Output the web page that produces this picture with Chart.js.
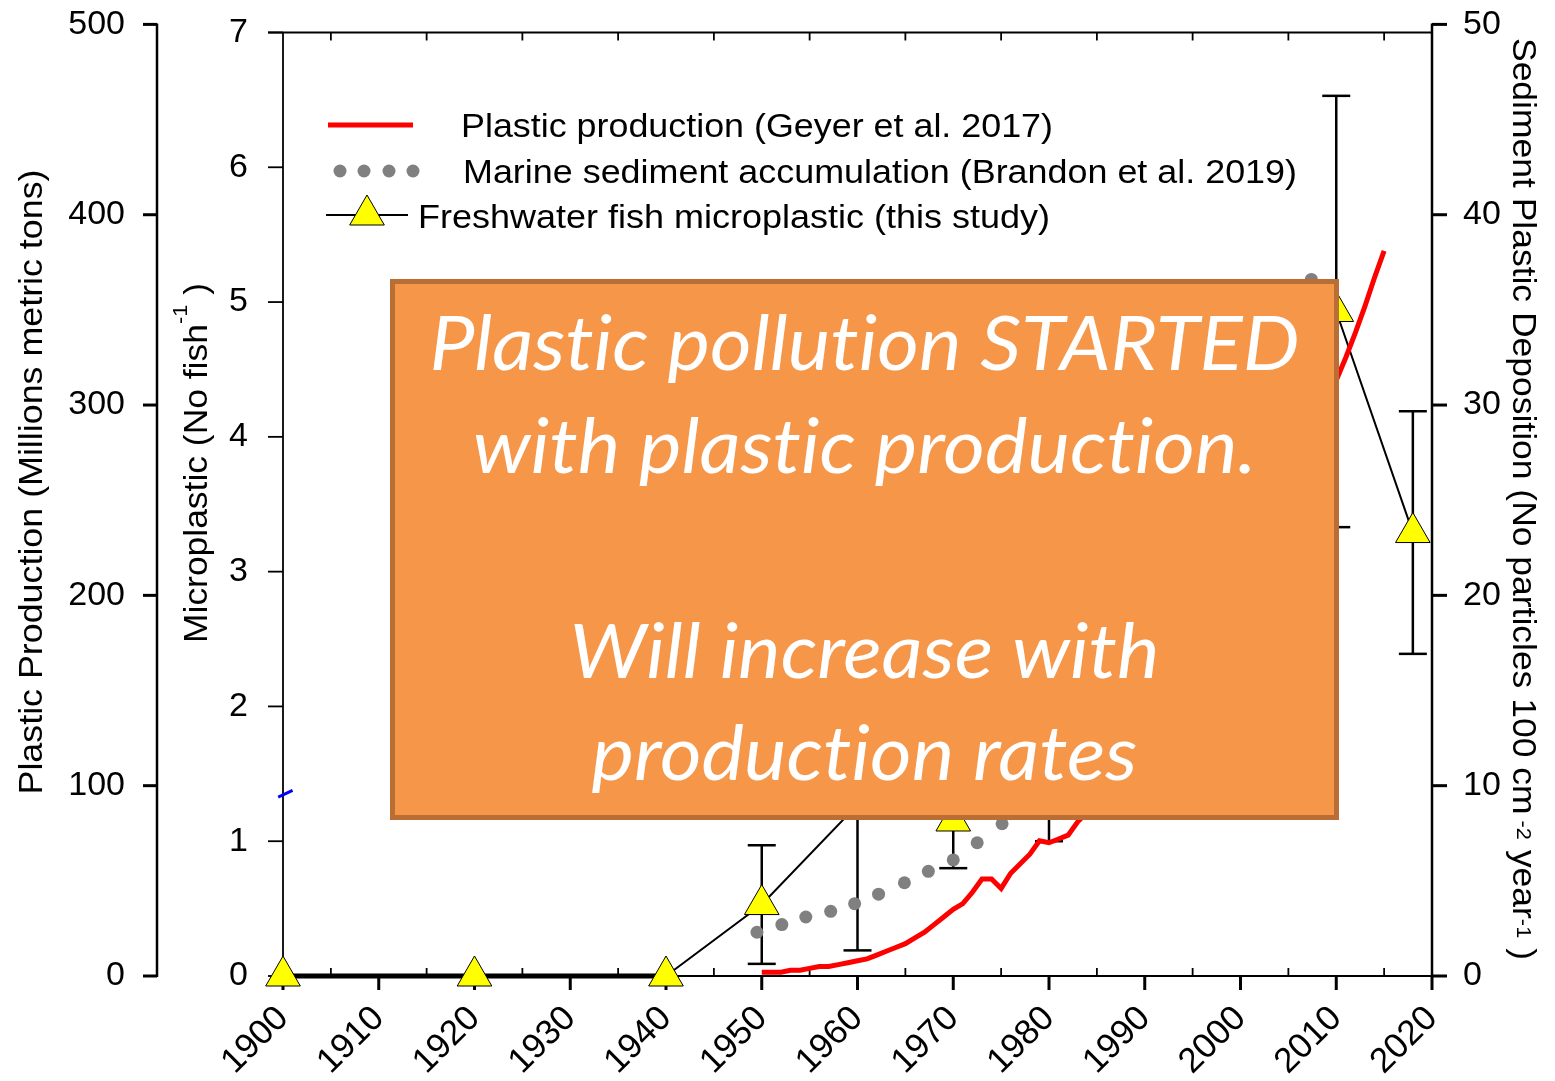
<!DOCTYPE html>
<html>
<head>
<meta charset="utf-8">
<script src="https://cdn.jsdelivr.net/npm/chart.js@4.4.1/dist/chart.umd.min.js"></script>
<style>
  html, body { margin: 0; padding: 0; background: #fff; }
  canvas { display: block; }
</style>
</head>
<body>
<canvas id="chart" width="1555" height="1081"></canvas>
<script>
// plastic production, Mt (left outer axis)
const prodYears = [1950,1951,1952,1953,1954,1955,1956,1957,1958,1959,1960,1961,1962,1963,1964,1965,1966,1967,1968,1969,
  1970,1971,1972,1973,1974,1975,1976,1977,1978,1979,1980,1981,1982,1983,1984,1985,1986,1987,1988,1989,
  1990,1991,1992,1993,1994,1995,1996,1997,1998,1999,2000,2001,2002,2003,2004,2005,2006,2007,2008,2009,
  2010,2011,2012,2013,2014,2015];
const prodValues = [2,2,2,3,3,4,5,5,6,7,8,9,11,13,15,17,20,23,27,31,
  35,38,44,51,51,46,54,59,64,71,70,72,74,81,86,91,97,104,110,114,
  120,125,132,137,151,156,168,181,188,202,213,218,231,241,256,263,280,295,281,288,
  313,325,338,352,367,381];

// marine sediment deposition (right axis)
const sedYears = [1949.5,1952.1,1954.6,1957.2,1959.7,1962.2,1964.9,1967.4,1970.0,1972.5,1975.1,1977.6,
  1980.2,1982.7,1985.3,1987.8,1990.4,1992.9,1995.5,1998.0,2000.6,2003.1,2005.6,2007.4];
const sedValues = [2.3,2.7,3.1,3.4,3.8,4.3,4.9,5.5,6.1,7.0,8.0,9.1,
  10.2,11.4,12.8,14.3,16.0,17.9,20.0,22.3,24.5,28.0,32.0,36.6];

// freshwater fish microplastic (inner left axis)
const fishYears = [1900,1920,1940,1950,1960,1970,1980,1990,2000,2010,2018];
const fishValues = [0,0,0,0.53,1.27,1.15,1.6,2.1,3.0,4.93,3.29];
const fishErrors = [0,0,0,0.44,1.08,0.35,0.6,0.5,0.8,1.6,0.9];

// stray blue marks in the original
const strayYears = [1899.5,1901];
const strayValues = [94,97.5];

const xTicks = [1900,1910,1920,1930,1940,1950,1960,1970,1980,1990,2000,2010,2020];
const xMinorTicks = [1905,1915,1925,1935,1945,1955,1965,1975,1985,1995,2005,2015];
const prodTicks = [0,100,200,300,400,500];
const microTicks = [0,1,2,3,4,5,6,7];
const sedTicks = [0,10,20,30,40,50];

const legendLabels = [
  'Plastic production (Geyer et al. 2017)',
  'Marine sediment accumulation (Brandon et al. 2019)',
  'Freshwater fish microplastic (this study)'
];
const noteLines = ['Plastic pollution STARTED', 'with plastic production.', '', 'Will increase with', 'production rates'];

const zip = (xs, ys) => xs.map((x, i) => ({x: x, y: ys[i]}));
const setTicks = vals => scale => { scale.ticks = vals.map(v => ({value: v})); };
const AX_FONT = {family: '"Liberation Sans", Arial, sans-serif', size: 34};
const noLig = t => t.split('').join('\u200C');

function line(ctx, x1, y1, x2, y2) {
  ctx.beginPath(); ctx.moveTo(x1, y1); ctx.lineTo(x2, y2); ctx.stroke();
}

// text made of pieces (for superscripts), squeezed along its own direction to a length
function drawRich(ctx, parts, x, y, angle, len, align) {
  ctx.save();
  let total = 0;
  parts.forEach(p => { ctx.font = p.font; p.w = ctx.measureText(p.t).width; total += p.w; });
  ctx.translate(x, y);
  ctx.rotate(angle);
  ctx.scale(len ? len / total : 1, 1);
  let px = align === 'left' ? 0 : -total / 2;
  ctx.textAlign = 'left';
  ctx.textBaseline = 'alphabetic';
  ctx.fillStyle = '#000';
  parts.forEach(p => { ctx.font = p.font; ctx.fillText(p.t, px, -(p.rise || 0)); px += p.w; });
  ctx.restore();
}

function triangle(ctx, x, y, r) {
  ctx.beginPath();
  ctx.moveTo(x, y - r);
  ctx.lineTo(x + r * 0.866, y + r * 0.5);
  ctx.lineTo(x - r * 0.866, y + r * 0.5);
  ctx.closePath();
  ctx.fillStyle = '#ffff00'; ctx.fill();
  ctx.strokeStyle = '#000'; ctx.lineWidth = 1; ctx.stroke();
}

const axesPlugin = {
  id: 'axesPlugin',
  beforeDatasetsDraw(chart) {
    const ctx = chart.ctx;
    const {x, yProd, yMicro, yRight} = chart.scales;
    const xl = x.getPixelForValue(1900), xr = x.getPixelForValue(2020);
    const yb = yMicro.getPixelForValue(0), yt = yMicro.getPixelForValue(7);
    ctx.save();
    ctx.strokeStyle = '#000';
    ctx.lineCap = 'butt';
    // outer left axis
    const xo = yProd.right - 13;
    ctx.lineWidth = 2.5;
    line(ctx, xo, yProd.getPixelForValue(500) - 1, xo, yProd.getPixelForValue(0) + 1);
    ctx.lineWidth = 3;
    prodTicks.forEach(v => { const p = yProd.getPixelForValue(v); line(ctx, xo - 14, p, xo, p); });
    // inner left axis + frame
    ctx.lineWidth = 1.8;
    line(ctx, xl, yt, xl, yb);
    line(ctx, xl - 15, yt, xr, yt);
    line(ctx, xl, yb, xr, yb);
    microTicks.forEach(v => { const p = yMicro.getPixelForValue(v); line(ctx, xl - 15, p, xl, p); });
    xMinorTicks.forEach(v => {
      const p = x.getPixelForValue(v);
      line(ctx, p, yb, p, yb - 8);
      line(ctx, p, yt, p, yt + 8);
    });
    ctx.lineWidth = 3;
    xTicks.forEach(v => { const p = x.getPixelForValue(v); line(ctx, p, yb, p, yb + 14); });
    // right axis
    ctx.lineWidth = 2.5;
    line(ctx, xr, yRight.getPixelForValue(50) - 1, xr, yRight.getPixelForValue(0) + 1);
    ctx.lineWidth = 3;
    sedTicks.forEach(v => { const p = yRight.getPixelForValue(v); line(ctx, xr, p, xr + 15, p); });
    // error bars
    ctx.lineWidth = 2.5;
    fishYears.forEach((yr, i) => {
      if (!fishErrors[i]) return;
      const px = x.getPixelForValue(yr);
      const lo = yMicro.getPixelForValue(fishValues[i] - fishErrors[i]);
      const hi = yMicro.getPixelForValue(fishValues[i] + fishErrors[i]);
      line(ctx, px, lo, px, hi);
      line(ctx, px - 14, lo, px + 14, lo);
      line(ctx, px - 14, hi, px + 14, hi);
    });
    ctx.restore();
  },
  afterDatasetsDraw(chart) {
    const ctx = chart.ctx;
    ctx.save();
    // legend
    ctx.strokeStyle = '#ff0000'; ctx.lineWidth = 5;
    line(ctx, 328, 125, 413, 125);
    ctx.fillStyle = '#808080';
    [340, 364, 389, 413].forEach(cx => { ctx.beginPath(); ctx.arc(cx, 171, 6.5, 0, Math.PI * 2); ctx.fill(); });
    ctx.strokeStyle = '#000'; ctx.lineWidth = 2;
    line(ctx, 326, 215, 408, 215);
    triangle(ctx, 367, 215, 20);
    const lf = '34px "Liberation Sans", Arial, sans-serif';
    drawRich(ctx, [{t: legendLabels[0], font: lf}], 461, 137, 0, 592, 'left');
    drawRich(ctx, [{t: legendLabels[1], font: lf}], 463, 183, 0, 834, 'left');
    drawRich(ctx, [{t: legendLabels[2], font: lf}], 418, 228, 0, 632, 'left');

    // annotation box
    ctx.fillStyle = '#f59649';
    ctx.strokeStyle = '#b86e35';
    ctx.lineWidth = 5;
    ctx.beginPath();
    ctx.rect(392.5, 281.5, 944, 536);
    ctx.fill(); ctx.stroke();
    ctx.fillStyle = '#ffffff';
    ctx.textAlign = 'center';
    ctx.textBaseline = 'alphabetic';
    ctx.font = 'italic 75px Lato, "Open Sans", sans-serif';
    const sx = 870 / ctx.measureText(noLig(noteLines[0])).width;
    const baselines = [370, 473, 0, 678, 780];
    noteLines.forEach((t, i) => {
      if (!t) return;
      ctx.save();
      ctx.translate(864.5, baselines[i]);
      ctx.scale(sx, 1);
      ctx.fillText(noLig(t), 0, 0);
      ctx.restore();
    });
    ctx.restore();
  },
  afterDraw(chart) {
    const ctx = chart.ctx;
    const f = '34px "Liberation Sans", Arial, sans-serif';
    const sf = '21px "Liberation Sans", Arial, sans-serif';
    drawRich(ctx, [{t: 'Plastic Production (Millions metric tons)', font: f}], 42, 482, -Math.PI / 2, 625);
    drawRich(ctx, [
      {t: 'Microplastic (No fish', font: f},
      {t: '-1', font: sf, rise: 20},
      {t: ' )', font: f}
    ], 207, 463, -Math.PI / 2, 360);
    drawRich(ctx, [
      {t: 'Sediment Plastic Deposition (No particles 100 cm', font: f},
      {t: ' -2', font: sf, rise: 4},
      {t: ' year', font: f},
      {t: '-1', font: sf, rise: 4},
      {t: ' )', font: f}
    ], 1513, 499, Math.PI / 2, 922);
  }
};

new Chart(document.getElementById('chart'), {
  type: 'line',
  data: {
    datasets: [
      {
        label: legendLabels[0],
        data: zip(prodYears, prodValues),
        yAxisID: 'yProd',
        borderColor: '#ff0000',
        borderWidth: 5,
        pointRadius: 0,
        tension: 0,
        clip: false
      },
      {
        label: legendLabels[1],
        data: zip(sedYears, sedValues),
        yAxisID: 'yRight',
        showLine: false,
        pointRadius: 6.5,
        pointBackgroundColor: '#808080',
        pointBorderWidth: 0,
        clip: false
      },
      {
        label: legendLabels[2],
        data: zip(fishYears, fishValues),
        yAxisID: 'yMicro',
        borderColor: '#000',
        borderWidth: 2,
        segment: {
          borderWidth: c => (c.p0.parsed.y === 0 && c.p1.parsed.y === 0) ? 5 : 2
        },
        pointStyle: 'triangle',
        pointRadius: 20,
        pointBackgroundColor: '#ffff00',
        pointBorderColor: '#000',
        pointBorderWidth: 1,
        clip: false
      },
      {
        label: 'stray',
        data: zip(strayYears, strayValues),
        yAxisID: 'yProd',
        borderColor: '#0000ff',
        borderWidth: 3,
        pointRadius: 0,
        clip: false
      }
    ]
  },
  options: {
    responsive: false,
    animation: false,
    events: [],
    layout: {padding: {top: 23, left: 0, right: 0, bottom: 0}},
    plugins: {legend: {display: false}, tooltip: {enabled: false}},
    scales: {
      x: {
        type: 'linear',
        position: 'bottom',
        min: 1900,
        max: 2020,
        afterBuildTicks: setTicks(xTicks),
        afterFit: s => { s.height = 105; },
        grid: {display: false, drawTicks: true, tickLength: 18},
        border: {display: false},
        ticks: {
          font: {family: AX_FONT.family, size: 35},
          color: '#000',
          minRotation: 45,
          maxRotation: 45,
          autoSkip: false,
          padding: 4,
          callback: v => String(v)
        }
      },
      yProd: {
        type: 'linear',
        position: 'left',
        weight: 10,
        min: 0,
        max: 500,
        afterBuildTicks: setTicks(prodTicks),
        afterFit: s => { s.width = 170; },
        grid: {display: false, drawTicks: true, tickLength: 41},
        border: {display: false},
        ticks: {font: AX_FONT, color: '#000', padding: 4}
      },
      yMicro: {
        type: 'linear',
        position: 'left',
        weight: 0,
        min: 0,
        max: 7.06,
        afterBuildTicks: setTicks(microTicks),
        afterFit: s => { s.width = 113; },
        grid: {display: false, drawTicks: true, tickLength: 31},
        border: {display: false},
        ticks: {font: AX_FONT, color: '#000', padding: 4}
      },
      yRight: {
        type: 'linear',
        position: 'right',
        min: 0,
        max: 50,
        afterBuildTicks: setTicks(sedTicks),
        afterFit: s => { s.width = 123; },
        grid: {display: false, drawTicks: true, tickLength: 27},
        border: {display: false},
        ticks: {font: AX_FONT, color: '#000', padding: 4}
      }
    }
  },
  plugins: [axesPlugin]
});
</script>
</body>
</html>
